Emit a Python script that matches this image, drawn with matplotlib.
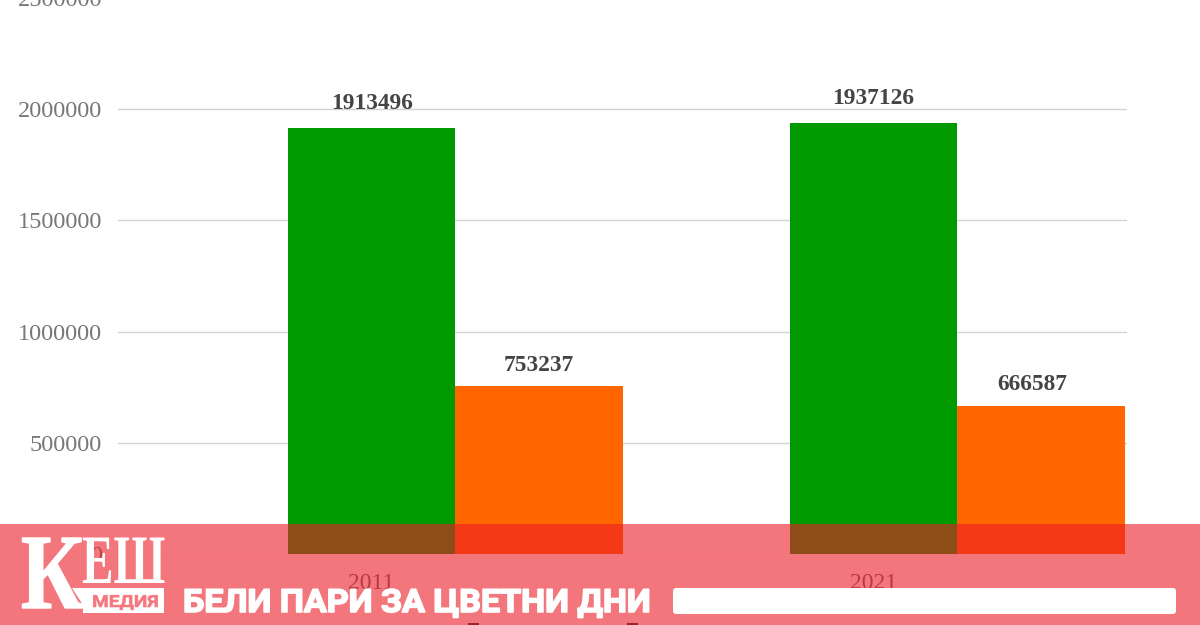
import matplotlib
matplotlib.use('Agg')
import matplotlib.pyplot as plt
from matplotlib.patches import Rectangle, FancyBboxPatch, Polygon
from matplotlib.patheffects import AbstractPathEffect
from matplotlib.transforms import Affine2D, IdentityTransform

# values
years = ['2011', '2021']
green_vals = [1913496, 1937126]
orange_vals = [753237, 666587]
yticks = [0, 500000, 1000000, 1500000, 2000000, 2500000]

W, H = 1200, 625
SERIF = 'Liberation Serif'
BLUSH = '#f5767c'
px = IdentityTransform()  # banner things are placed in pixels


class Squeeze(AbstractPathEffect):
    # stretch a text around its anchor, the logo letters are condensed
    def __init__(self, x0, y0, sx, sy=1.0, lw=0, color='white'):
        super().__init__()
        self.x0, self.y0, self.sx, self.sy, self.lw, self.color = x0, y0, sx, sy, lw, color

    def draw_path(self, renderer, gc, tpath, affine, rgbFace=None):
        aff = affine + Affine2D().translate(-self.x0, -self.y0).scale(self.sx, self.sy).translate(self.x0, self.y0)
        gc0 = renderer.new_gc()
        gc0.copy_properties(gc)
        gc0.set_linewidth(self.lw)
        gc0.set_foreground(self.color)
        renderer.draw_path(gc0, tpath, aff, rgbFace)
        gc0.restore()


def banner_text(x, y, s, sx, lw=0, color='white', **kw):
    t = fig.text(x, H - y, s, transform=px, color=color, ha='left', va='baseline', zorder=7, **kw)
    t.set_path_effects([Squeeze(x, H - y, sx, lw=lw, color=color)])
    return t


fig = plt.figure(figsize=(W / 100, H / 100), dpi=100, facecolor='white')

# axes go slightly past the top of the canvas, the 2500000 label is cut there
ax = fig.add_axes([118 / W, (H - 554) / H, 1009 / W, 556 / H])
x = [0, 1]
bw = 0.3337
ax.bar([i - bw / 2 for i in x], green_vals, bw, color='#009900', zorder=3)
ax.bar([i + bw / 2 for i in x], orange_vals, bw, color='#ff6600', zorder=3)

ax.set_xlim(-0.672, 1.338)
ax.set_ylim(0, 2500000)
ax.set_yticks(yticks)
ax.set_yticklabels([str(v) for v in yticks], family=SERIF, fontsize=17.5, color='#777777')
# year labels sit under the green bars
ax.set_xticks([i - bw / 2 for i in x])
ax.set_xticklabels(years, family=SERIF, fontsize=17, color='#666666')
ax.tick_params(length=0, axis='y', pad=11.5)
ax.tick_params(length=0, axis='x', pad=13.5)
ax.grid(axis='y', color='#d4d4d4', lw=1.0, zorder=0)
for s in ax.spines.values():
    s.set_visible(False)

label_font = dict(family=SERIF, fontsize=16.8, fontweight='bold', color='#444444', ha='center', va='bottom', zorder=4)
for i in x:
    ax.annotate(str(green_vals[i]), (i - bw / 2, green_vals[i]), xytext=(0, 10.5), textcoords='offset points', **label_font)
# the second orange label is off centre in the original
dx = [0, -6.5]
for i in x:
    ax.annotate(str(orange_vals[i]), (i + bw / 2, orange_vals[i]), xytext=(dx[i], 7.5), textcoords='offset points', **label_font)

# tops of the cut off legend, only a few pixels show
for lx in [468, 627]:
    fig.add_artist(Rectangle((lx, 0), 10.5, 2, transform=px, fc='#333333', ec='none', zorder=2))

# banner over the chart
fig.add_artist(Rectangle((0, 0), W, H - 524, transform=px, fc='#ee1b26', alpha=0.6, ec='none', zorder=5))

# white empty bar on the right
fig.add_artist(FancyBboxPatch((673, H - 614), 503, 26, boxstyle='round,pad=0,rounding_size=3',
                              transform=px, fc='white', ec='none', zorder=6))

# logo
fig.add_artist(Polygon([(72, H - 588), (164, H - 588), (164, H - 613), (83, H - 613), (83, H - 605)],
                       closed=True, transform=px, fc='white', ec='none', zorder=6))
banner_text(21, 608, 'К', 0.8, lw=1.0, family=SERIF, fontweight='bold', fontsize=77)
banner_text(82, 583, 'ЕШ', 0.68, family=SERIF, fontweight='bold', fontsize=50)
banner_text(92, 607, 'МЕДИЯ', 1.15, lw=0.4, color=BLUSH, family='Roboto', fontweight='bold', fontsize=12)

# headline
banner_text(183, 612, 'БЕЛИ ПАРИ ЗА ЦВЕТНИ ДНИ', 1.065, lw=1.2, family='Roboto', fontweight='bold', fontsize=23)

fig.savefig('out.png', dpi=100)
